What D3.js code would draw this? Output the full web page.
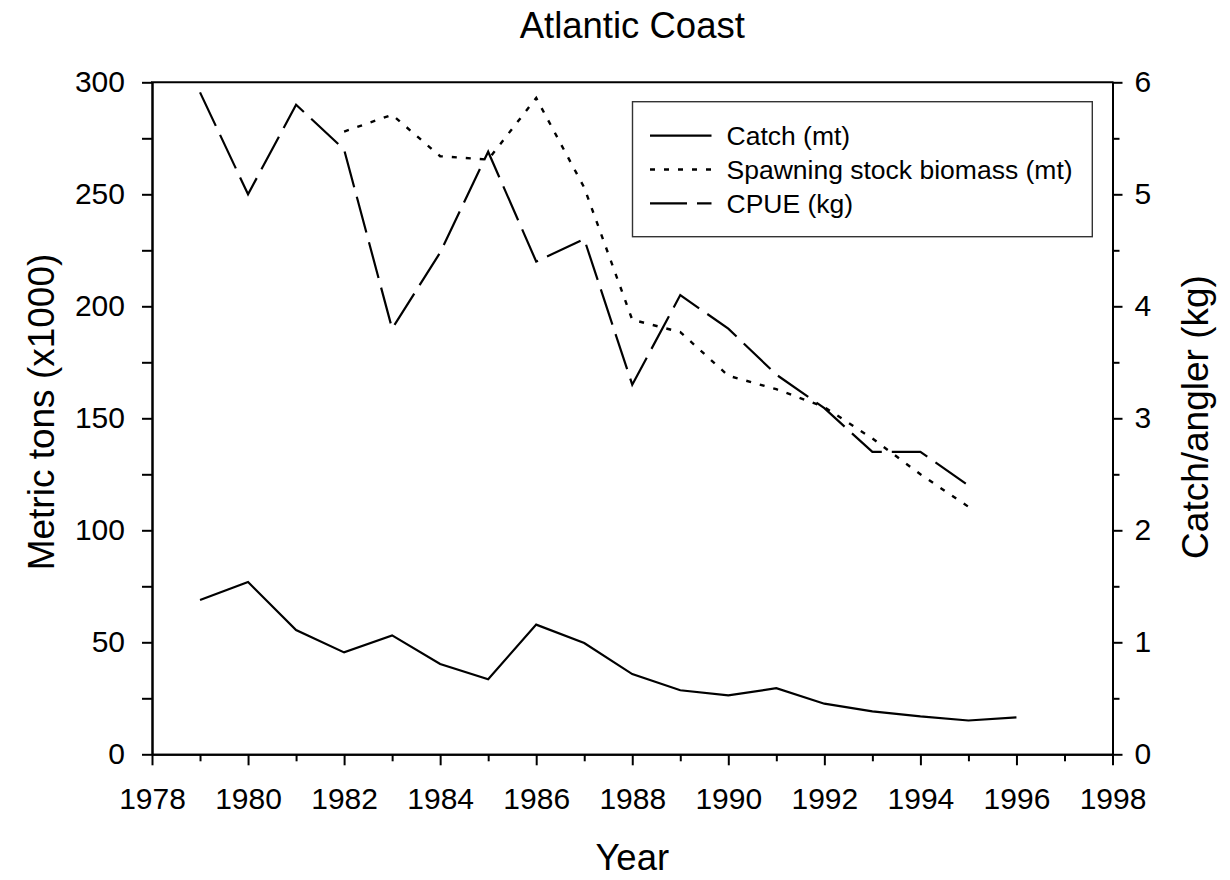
<!DOCTYPE html>
<html>
<head>
<meta charset="utf-8">
<script src="https://cdn.jsdelivr.net/npm/d3@7"></script>
<style>
  html, body { margin: 0; padding: 0; background: #fff; }
  svg { display: block; font-family: "Liberation Sans", Arial, Helvetica, sans-serif; }
</style>
</head>
<body>
<svg id="chart" width="1230" height="880"></svg>
<script>
// Atlantic coast fishery: catch, spawning stock biomass and catch per angler
const catchYears = [1979, 1980, 1981, 1982, 1983, 1984, 1985, 1986, 1987, 1988,
                    1989, 1990, 1991, 1992, 1993, 1994, 1995, 1996];
const catchMt = [68.9, 76.9, 55.5, 45.5, 53.1, 40.3, 33.5, 57.9, 49.7, 35.8,
                 28.6, 26.3, 29.5, 22.6, 19.2, 16.9, 15.1, 16.5];

const ssbYears = [1982, 1983, 1984, 1985, 1986, 1987, 1988, 1989, 1990, 1991,
                  1992, 1993, 1994, 1995];
const ssbMt = [278, 285.5, 267, 265.5, 293, 253, 194, 188.5, 169, 163,
               155, 141, 125, 110.5];

const cpueYears = [1979, 1980, 1981, 1982, 1983, 1984, 1985, 1986, 1987, 1988,
                   1989, 1990, 1991, 1992, 1993, 1994, 1995];
const cpueKg = [5.91, 5.0, 5.8, 5.4, 3.8, 4.48, 5.38, 4.4, 4.6, 3.3,
                4.1, 3.8, 3.39, 3.09, 2.7, 2.7, 2.4];

const xMajorTicks = [1978, 1980, 1982, 1984, 1986, 1988, 1990, 1992, 1994, 1996, 1998];
const xMinorTicks = [1979, 1981, 1983, 1985, 1987, 1989, 1991, 1993, 1995, 1997];
const leftMajorTicks = [0, 50, 100, 150, 200, 250, 300];
const leftMinorTicks = [25, 75, 125, 175, 225, 275];
const rightMajorTicks = [0, 1, 2, 3, 4, 5, 6];
const rightMinorTicks = [0.5, 1.5, 2.5, 3.5, 4.5, 5.5];

const legendLabels = ["Catch (mt)", "Spawning stock biomass (mt)", "CPUE (kg)"];
const dashPatterns = [null, "5,9", "37,10"];

const svg = d3.select("#chart");
const plotLeft = 152, plotRight = 1112.5, plotTop = 82.3, plotBottom = 754.3;

const x = d3.scaleLinear().domain([1978, 1998]).range([plotLeft, plotRight]);
const yL = d3.scaleLinear().domain([0, 300]).range([plotBottom, plotTop]);
const yR = d3.scaleLinear().domain([0, 6]).range([plotBottom, plotTop]);

svg.append("rect").attr("width", 1230).attr("height", 880).attr("fill", "#fff");

// axes
function styleAxis(g, fontSize) {
  g.selectAll("path.domain").attr("stroke", "#000").attr("stroke-width", 2);
  g.selectAll(".tick line").attr("stroke", "#000").attr("stroke-width", 2);
  g.selectAll(".tick text").attr("fill", "#000")
    .style("font-family", "'Liberation Sans', Arial, sans-serif")
    .style("font-size", fontSize + "px");
}

const intFmt = d3.format("d");

const bx = svg.append("g").attr("transform", `translate(0,${plotBottom})`)
  .call(d3.axisBottom(x).tickValues(xMajorTicks).tickFormat(intFmt)
    .tickSize(11).tickSizeOuter(0).tickPadding(22));
styleAxis(bx, 30);
const bxm = svg.append("g").attr("transform", `translate(0,${plotBottom})`)
  .call(d3.axisBottom(x).tickValues(xMinorTicks).tickFormat("").tickSize(7).tickSizeOuter(0));
styleAxis(bxm, 30);

const ly = svg.append("g").attr("transform", `translate(${plotLeft},0)`)
  .call(d3.axisLeft(yL).tickValues(leftMajorTicks).tickFormat(intFmt)
    .tickSize(10).tickSizeOuter(0).tickPadding(17));
styleAxis(ly, 30);
const lym = svg.append("g").attr("transform", `translate(${plotLeft},0)`)
  .call(d3.axisLeft(yL).tickValues(leftMinorTicks).tickFormat("").tickSize(10).tickSizeOuter(0));
styleAxis(lym, 30);

const ry = svg.append("g").attr("transform", `translate(${plotRight},0)`)
  .call(d3.axisRight(yR).tickValues(rightMajorTicks).tickFormat(intFmt)
    .tickSize(10).tickSizeOuter(0).tickPadding(12));
styleAxis(ry, 30);
const rym = svg.append("g").attr("transform", `translate(${plotRight},0)`)
  .call(d3.axisRight(yR).tickValues(rightMinorTicks).tickFormat("").tickSize(7).tickSizeOuter(0));
styleAxis(rym, 30);

// top frame line
svg.append("line")
  .attr("x1", plotLeft - 1).attr("x2", plotRight + 1)
  .attr("y1", plotTop).attr("y2", plotTop)
  .attr("stroke", "#000").attr("stroke-width", 2);

// series
const lineL = d3.line().x(d => x(d[0])).y(d => yL(d[1]));
const lineR = d3.line().x(d => x(d[0])).y(d => yR(d[1]));

svg.append("path")
  .datum(catchYears.map((yr, i) => [yr, catchMt[i]]))
  .attr("d", lineL).attr("fill", "none").attr("stroke", "#000")
  .attr("stroke-width", 2.2).attr("stroke-linejoin", "miter");

svg.append("path")
  .datum(ssbYears.map((yr, i) => [yr, ssbMt[i]]))
  .attr("d", lineL).attr("fill", "none").attr("stroke", "#000")
  .attr("stroke-width", 2.4).attr("stroke-dasharray", dashPatterns[1]);

svg.append("path")
  .datum(cpueYears.map((yr, i) => [yr, cpueKg[i]]))
  .attr("d", lineR).attr("fill", "none").attr("stroke", "#000")
  .attr("stroke-width", 2.2).attr("stroke-dasharray", dashPatterns[2]);

// legend
const lg = svg.append("g");
lg.append("rect")
  .attr("x", 632.5).attr("y", 101.7).attr("width", 459.8).attr("height", 135)
  .attr("fill", "#fff").attr("stroke", "#333").attr("stroke-width", 1.4);
const rowY = [135.7, 169.5, 203.3];
legendLabels.forEach((lab, i) => {
  const ln = lg.append("line")
    .attr("x1", 650).attr("x2", 711.5).attr("y1", rowY[i]).attr("y2", rowY[i])
    .attr("stroke", "#000").attr("stroke-width", i === 1 ? 2.4 : 2.2);
  if (dashPatterns[i]) ln.attr("stroke-dasharray", dashPatterns[i]);
  lg.append("text")
    .attr("x", 726.5).attr("y", rowY[i]).attr("dy", "0.35em")
    .style("font-size", "26.5px").attr("fill", "#000").text(lab);
});

// titles
svg.append("text")
  .attr("x", (plotLeft + plotRight) / 2).attr("y", 38.3)
  .attr("text-anchor", "middle").style("font-size", "36.5px").text("Atlantic Coast");

svg.append("text")
  .attr("x", (plotLeft + plotRight) / 2).attr("y", 870)
  .attr("text-anchor", "middle").style("font-size", "36.5px").text("Year");

svg.append("text")
  .attr("transform", "translate(54,412) rotate(-90)")
  .attr("text-anchor", "middle").style("font-size", "37px").text("Metric tons (x1000)");

svg.append("text")
  .attr("transform", "translate(1208,417) rotate(-90)")
  .attr("text-anchor", "middle").style("font-size", "37px").text("Catch/angler (kg)");
</script>
</body>
</html>
